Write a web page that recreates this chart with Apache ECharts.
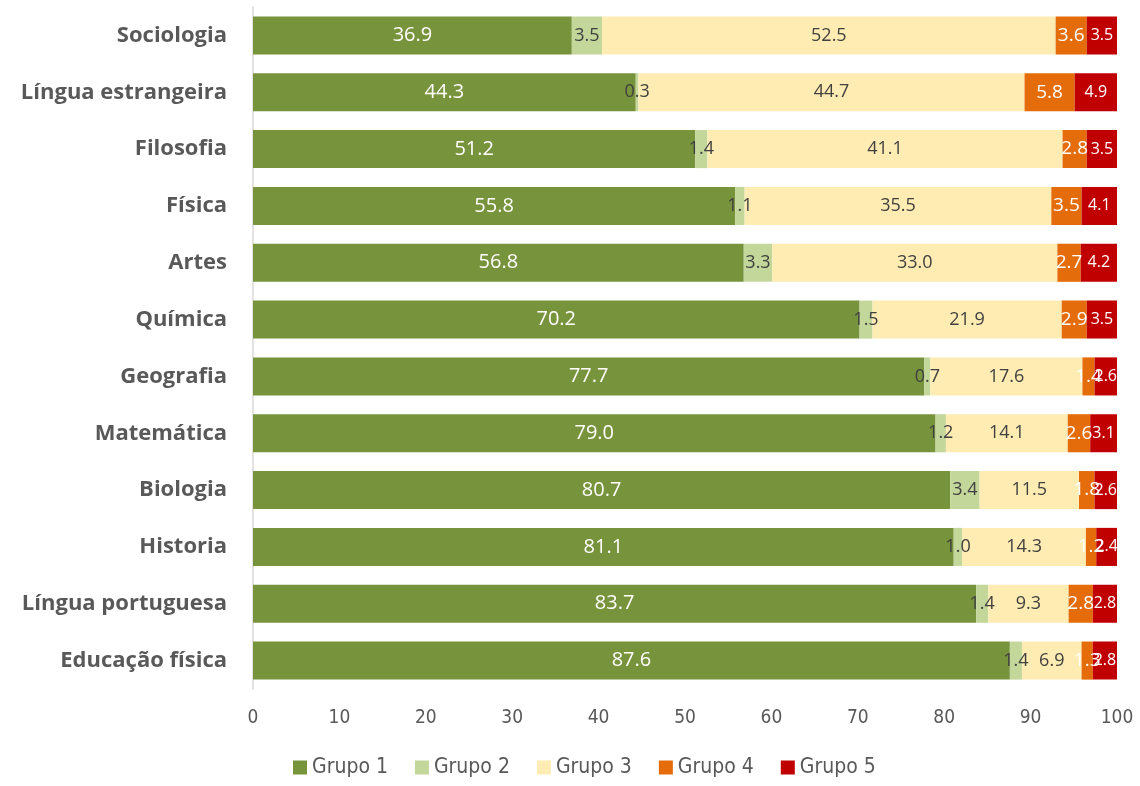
<!DOCTYPE html>
<html>
<head>
<meta charset="utf-8">
<script src="https://cdn.jsdelivr.net/npm/echarts@6/dist/echarts.min.js"></script>
<style>
  html, body { margin: 0; padding: 0; background: #fff; }
  #chart { width: 1140px; height: 786px; }
</style>
</head>
<body>
<div id="chart"></div>
<script>
// categories listed bottom to top (echarts draws the first category at the bottom)
const categories = ['Educação física', 'Língua portuguesa', 'Historia', 'Biologia', 'Matemática', 'Geografia',
  'Química', 'Artes', 'Física', 'Filosofia', 'Língua estrangeira', 'Sociologia'];

const grupo1 = [87.6, 83.7, 81.1, 80.7, 79.0, 77.7, 70.2, 56.8, 55.8, 51.2, 44.3, 36.9];
const grupo2 = [1.4, 1.4, 1.0, 3.4, 1.2, 0.7, 1.5, 3.3, 1.1, 1.4, 0.3, 3.5];
const grupo3 = [6.9, 9.3, 14.3, 11.5, 14.1, 17.6, 21.9, 33.0, 35.5, 41.1, 44.7, 52.5];
const grupo4 = [1.3, 2.8, 1.2, 1.8, 2.6, 1.4, 2.9, 2.7, 3.5, 2.8, 5.8, 3.6];
const grupo5 = [2.8, 2.8, 2.4, 2.6, 3.1, 2.6, 3.5, 4.2, 4.1, 3.5, 4.9, 3.5];

const seriesNames = ['Grupo 1', 'Grupo 2', 'Grupo 3', 'Grupo 4', 'Grupo 5'];
const seriesData = [grupo1, grupo2, grupo3, grupo4, grupo5];
const colors = ['#77933C', '#C4D79B', '#FFECB3', '#E46C0A', '#C00000'];
const labelColors = ['#ffffff', '#404040', '#404040', '#ffffff', '#ffffff'];
const labelSizes = [20, 18, 18, 19, 16];

const chart = echarts.init(document.getElementById('chart'));

const font = '"Open Sans", "Noto Sans", sans-serif';
const narrow = '"Liberation Sans Narrow", "DejaVu Sans Condensed", sans-serif';

chart.setOption({
  animation: false,
  color: colors,
  grid: { left: 253, right: 23, top: 7, bottom: 97, containLabel: false },
  legend: {
    bottom: 3,
    left: 288,
    itemWidth: 14,
    itemHeight: 14,
    itemGap: 27,
    icon: 'rect',
    textStyle: { fontFamily: narrow, fontSize: 21, color: '#595959' },
    data: seriesNames
  },
  xAxis: {
    type: 'value',
    min: 0,
    max: 100,
    interval: 10,
    splitLine: { show: false },
    axisLine: { show: false },
    axisTick: { show: false },
    axisLabel: {
      fontFamily: narrow,
      fontSize: 19, color: '#595959', margin: 20
    }
  },
  yAxis: {
    type: 'category',
    data: categories,
    axisLine: { show: true, lineStyle: { color: '#D9D9D9', width: 1.5 } },
    axisTick: { show: false },
    axisLabel: {
      fontFamily: font, fontWeight: 'bold', fontSize: 22, color: '#595959', margin: 26
    }
  },
  series: seriesData.map((d, i) => ({
    name: seriesNames[i],
    type: 'bar',
    stack: 'total',
    barWidth: '67%',
    data: d,
    itemStyle: { color: colors[i] },
    label: {
      show: true,
      position: 'inside',
      formatter: p => p.value.toFixed(1),
      color: labelColors[i],
      fontFamily: font,
      fontSize: labelSizes[i],
      textBorderWidth: 0,
      overflow: 'none'
    },
    labelLayout: { hideOverlap: false }
  }))
});
</script>
</body>
</html>
